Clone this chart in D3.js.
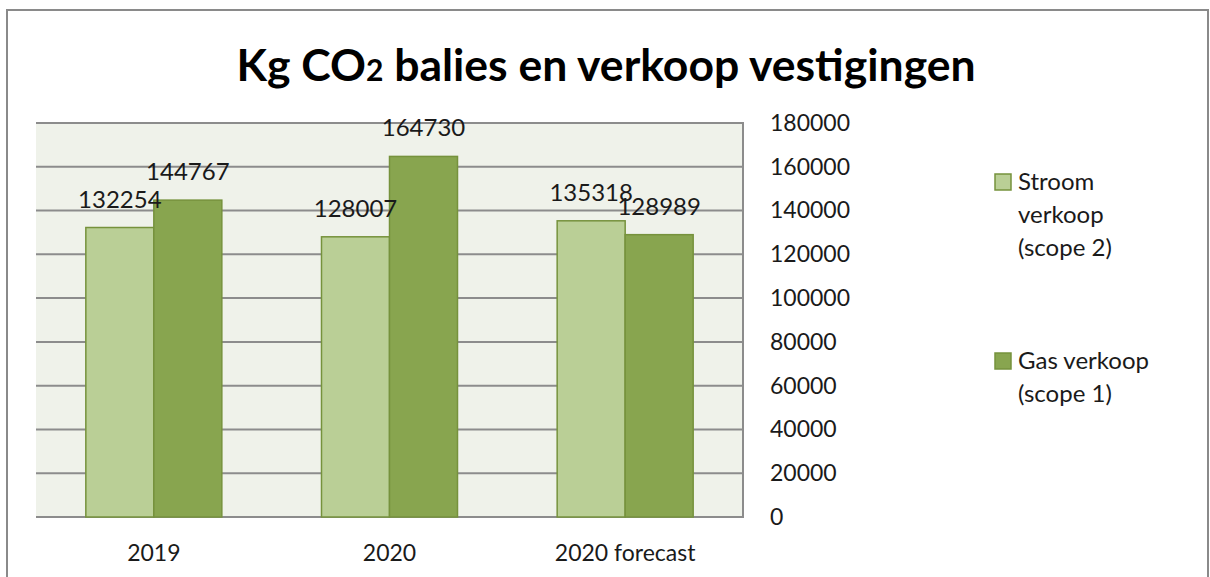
<!DOCTYPE html>
<html>
<head>
<meta charset="utf-8">
<script src="https://cdn.jsdelivr.net/npm/d3@7"></script>
<style>
  body { margin: 0; background: #fff; }
  svg { display: block; font-family: Lato, "Open Sans", sans-serif; }
</style>
</head>
<body>
<svg width="1210" height="577"></svg>
<script>
// data
var categories = ['2019', '2020', '2020 forecast']
var stroom = [132254, 128007, 135318]
var gas = [144767, 164730, 128989]
var seriesNames = [['Stroom', 'verkoop', '(scope 2)'], ['Gas verkoop', '(scope 1)']]
var yTicks = [0, 20000, 40000, 60000, 80000, 100000, 120000, 140000, 160000, 180000]

var svg = d3.select('svg')

// outer chart frame
svg.append('rect')
  .attr('x', 7).attr('y', 10)
  .attr('width', 1201).attr('height', 600)
  .attr('fill', '#fff')
  .attr('stroke', '#8a8a8a')
  .attr('stroke-width', 2)

// title, the 2 in CO2 is smaller
var title = svg.append('text')
  .attr('x', 606).attr('y', 81)
  .attr('text-anchor', 'middle')
  .attr('font-size', 44.5)
  .attr('font-weight', 'bold')
  .attr('fill', '#000')
title.append('tspan').text('Kg CO')
title.append('tspan').attr('font-size', 30).text('2')
title.append('tspan').text(' balies en verkoop vestigingen')

var plot = { left: 36, right: 743, top: 123, bottom: 517 }

var x = d3.scaleBand()
  .domain(categories)
  .range([plot.left, plot.right])

var x1 = d3.scaleBand()
  .domain([0, 1])
  .range([0, 136])

var y = d3.scaleLinear()
  .domain([0, 180000])
  .range([plot.bottom, plot.top])

// plot background
svg.append('rect')
  .attr('x', plot.left).attr('y', plot.top)
  .attr('width', plot.right - plot.left)
  .attr('height', plot.bottom - plot.top)
  .attr('fill', '#eff2ea')

// gridlines
svg.append('g')
  .selectAll('line')
  .data(yTicks)
  .enter()
  .append('line')
  .attr('x1', plot.left).attr('x2', plot.right)
  .attr('y1', d => y(d)).attr('y2', d => y(d))
  .attr('stroke', '#8c8c8c')
  .attr('stroke-width', 2)

// right axis line
svg.append('line')
  .attr('x1', plot.right).attr('x2', plot.right)
  .attr('y1', plot.top - 1).attr('y2', plot.bottom + 1)
  .attr('stroke', '#8c8c8c')
  .attr('stroke-width', 2)

// y axis on the right, labels only
var yAxis = svg.append('g')
  .attr('transform', 'translate(' + (plot.right + 27) + ',0)')
  .call(d3.axisRight(y).tickValues(yTicks).tickSize(0).tickPadding(0).tickFormat(d3.format('d')))
yAxis.select('.domain').remove()
yAxis.selectAll('text')
  .attr('font-size', 23)
  .attr('font-family', 'Lato, "Open Sans", sans-serif')
  .attr('fill', '#1a1a1a')

// x axis labels
var xAxis = svg.append('g')
  .attr('transform', 'translate(0,' + plot.bottom + ')')
  .call(d3.axisBottom(x).tickSize(0).tickPadding(28))
xAxis.select('.domain').remove()
xAxis.selectAll('text')
  .attr('font-size', 23)
  .attr('font-family', 'Lato, "Open Sans", sans-serif')
  .attr('fill', '#1a1a1a')

var colors = ['#bacf96', '#88a54f']
var series = [stroom, gas]

var groups = svg.append('g')
  .selectAll('g')
  .data(categories)
  .enter()
  .append('g')
  .attr('transform', d => 'translate(' + (x(d) + (x.bandwidth() - 136) / 2) + ',0)')

groups.selectAll('rect')
  .data((d, i) => series.map((s, k) => ({ k: k, v: s[i] })))
  .enter()
  .append('rect')
  .attr('x', d => x1(d.k))
  .attr('y', d => y(d.v))
  .attr('width', x1.bandwidth())
  .attr('height', d => y(0) - y(d.v))
  .attr('fill', d => colors[d.k])
  .attr('stroke', '#76923c')
  .attr('stroke-width', 1.5)

groups.selectAll('text')
  .data((d, i) => series.map((s, k) => ({ k: k, v: s[i] })))
  .enter()
  .append('text')
  .attr('x', d => x1(d.k) + x1.bandwidth() / 2)
  .attr('y', d => y(d.v) - 20)
  .attr('text-anchor', 'middle')
  .attr('font-size', 24)
  .attr('fill', '#1a1a1a')
  .text(d => d.v)

// legend
var legendY = [174, 353]
var legend = svg.append('g')
  .selectAll('g')
  .data(seriesNames)
  .enter()
  .append('g')
  .attr('transform', (d, i) => 'translate(995,' + legendY[i] + ')')

legend.append('rect')
  .attr('width', 16).attr('height', 16)
  .attr('fill', (d, i) => colors[i])
  .attr('stroke', '#76923c')
  .attr('stroke-width', 1.5)

legend.each(function(d) {
  var t = d3.select(this).append('text')
    .attr('font-size', 24)
    .attr('fill', '#1a1a1a')
  d.forEach((line, j) => {
    t.append('tspan')
      .attr('x', 23)
      .attr('y', 16 + j * 33)
      .text(line)
  })
})
</script>
</body>
</html>
